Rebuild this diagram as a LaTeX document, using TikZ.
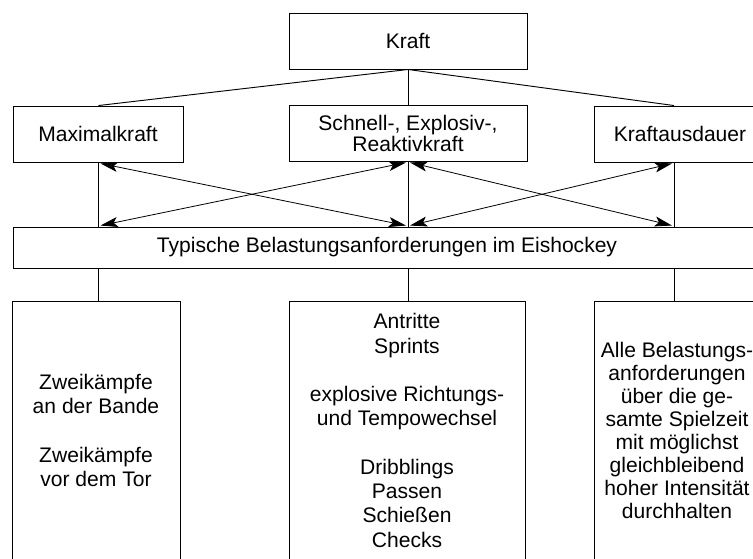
\documentclass[tikz,border=0pt]{standalone}
\usepackage{fontspec}
\setmainfont{Liberation Sans}
\usetikzlibrary{arrows.meta,calc}
\begin{document}
\begin{tikzpicture}[x=0.75pt,y=-0.75pt,
  box/.style={draw,line width=0.7pt,inner sep=0pt,align=center,font=\fontsize{15.8pt}{15.75pt}\selectfont},
  lowbox/.style={box,minimum height=194.25pt,font=\fontsize{15.8pt}{18.2pt}\selectfont},
  link/.style={line width=0.7pt},
  dbl/.style={line width=0.6pt,{Stealth[length=13pt,width=7.5pt,inset=3pt]}-{Stealth[length=13pt,width=7.5pt,inset=3pt]}}
]
\useasboundingbox (0,0) rectangle (753,558);
\clip (0,0) rectangle (753,558);
\fill[white] (0,0) rectangle (753,558);

\coordinate (cL) at (98.5,0);
\coordinate (cM) at (408,0);
\coordinate (cR) at (674,0);

\node[box,minimum width=178.5pt,minimum height=42pt] (kraft) at (408,41) {Kraft};
\node[box,minimum width=127.5pt,minimum height=42pt] (maxk) at (98,134) {Maximalkraft};
\node[box,minimum width=178.5pt,minimum height=42pt] (schnell) at (408,133) {Schnell-, Explosiv-,\\Reaktivkraft};
\node[box,minimum width=129pt,minimum height=42pt] (kaus) at (680,134) {Kraftausdauer};
\node[box,minimum width=561pt,minimum height=30.75pt] (typ) at (387,247.5) {Typische Belastungsanforderungen im Eishockey};

\node[lowbox,minimum width=126pt] (bl) at (96,430.5) {Zweikämpfe\\an der Bande\\[18.2pt]Zweikämpfe\\vor dem Tor};
\node[lowbox,minimum width=177pt] (bm) at (407,430.5) {Antritte\\Sprints\\[18.2pt]explosive Richtungs-\\und Tempowechsel\\[18.2pt]Dribblings\\Passen\\Schießen\\Checks};
\node[lowbox,minimum width=124.5pt,font=\fontsize{15.8pt}{17.3pt}\selectfont] (br) at (677,430.5) {Alle Belastungs-\\anforderungen\\über die ge-\\samte Spielzeit\\mit möglichst\\gleichbleibend\\hoher Intensität\\durchhalten};

% tree from Kraft
\draw[link] (kraft.south) -- (cL |- maxk.north);
\draw[link] (kraft.south) -- (cM |- schnell.north);
\draw[link] (kraft.south) -- (cR |- kaus.north);

% verticals
\draw[line width=0.5pt] (cL |- maxk.south) -- (cL |- typ.north);
\draw[line width=0.5pt] (cM |- schnell.south) -- (cM |- typ.north);
\draw[line width=0.5pt] (cR |- kaus.south) -- (cR |- typ.north);
\draw[link] (cL |- typ.south) -- (cL |- bl.north);
\draw[link] (cM |- typ.south) -- (cM |- bm.north);
\draw[link] (cR |- typ.south) -- (cR |- br.north);

% crossing double arrows
\draw[dbl] ($(cL |- maxk.south)+(2,1)$) -- ($(cM |- typ.north)+(-2,-1)$);
\draw[dbl] ($(cL |- typ.north)+(2,-1)$) -- ($(cM |- schnell.south)+(-2,1)$);
\draw[dbl] ($(cM |- schnell.south)+(2,1)$) -- ($(cR |- typ.north)+(-2,-1)$);
\draw[dbl] ($(cM |- typ.north)+(2,-1)$) -- ($(cR |- kaus.south)+(-2,1)$);
\end{tikzpicture}
\end{document}
